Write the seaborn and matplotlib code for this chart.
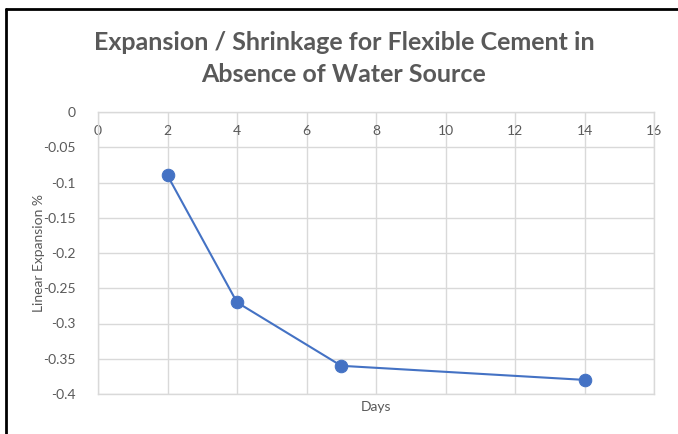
import matplotlib
matplotlib.use("Agg")
import matplotlib.pyplot as plt
from matplotlib.lines import Line2D
import seaborn as sns
import pandas as pd

days = [2, 4, 7, 14]
linear_expansion = [-0.09, -0.27, -0.36, -0.38]
x_ticks = [0, 2, 4, 6, 8, 10, 12, 14, 16]
y_ticks = [0, -0.05, -0.1, -0.15, -0.2, -0.25, -0.3, -0.35, -0.4]
y_tick_labels = ["0", "-0.05", "-0.1", "-0.15", "-0.2", "-0.25", "-0.3", "-0.35", "-0.4"]

sns.set_theme(style="white")
plt.rcParams["font.family"] = ["Lato", "DejaVu Sans"]

text_gray = "#595959"
grid_gray = "#d9d9d9"
blue = "#4472C4"

fig = plt.figure(figsize=(6.78, 4.34), dpi=100)
ax = fig.add_axes([98 / 678, 1 - 394 / 434, (654 - 98) / 678, (394 - 112) / 434])

df = pd.DataFrame({"Days": days, "Linear Expansion %": linear_expansion})
sns.lineplot(data=df, x="Days", y="Linear Expansion %", ax=ax, color=blue,
             linewidth=1.5, marker="o", markersize=9, markeredgecolor=blue)

ax.set_xlim(0, 16)
ax.set_ylim(-0.4, 0)
ax.set_xticks(x_ticks)
ax.set_yticks(y_ticks)
ax.set_yticklabels(y_tick_labels)
ax.grid(True, color=grid_gray, linewidth=1)
ax.set_axisbelow(True)
for s in ax.spines.values():
    s.set_color(grid_gray)
    s.set_linewidth(1)

# horizontal axis crosses at zero, so its labels sit just under the top edge
ax.tick_params(axis="x", bottom=False, top=False, labelbottom=False, labeltop=True,
               pad=-24, labelsize=10, labelcolor=text_gray)
ax.tick_params(axis="y", left=False, pad=10, labelsize=10, labelcolor=text_gray)

ax.set_xlabel("")
ax.set_ylabel("")
fig.text(376 / 678, 1 - 407 / 434, "Days", ha="center", va="center",
         fontsize=10, color=text_gray)
fig.text(39 / 678, 1 - 253 / 434, "Linear Expansion %", ha="center", va="center",
         rotation=90, fontsize=10, color=text_gray)

fig.text(344 / 678, 1 - 43 / 434, "Expansion / Shrinkage for Flexible Cement in",
         ha="center", va="center", fontsize=18, fontweight="bold", color=text_gray)
fig.text(344 / 678, 1 - 74 / 434, "Absence of Water Source",
         ha="center", va="center", fontsize=18, fontweight="bold", color=text_gray)

# chart frame
fig.add_artist(Line2D([5.5 / 678, 5.5 / 678], [0, 1 - 8.5 / 434], color="black",
                      linewidth=2, transform=fig.transFigure))
fig.add_artist(Line2D([5.5 / 678, 1], [1 - 8.5 / 434, 1 - 8.5 / 434], color="black",
                      linewidth=2, transform=fig.transFigure))

fig.savefig("out.png", dpi=100, facecolor="white")
